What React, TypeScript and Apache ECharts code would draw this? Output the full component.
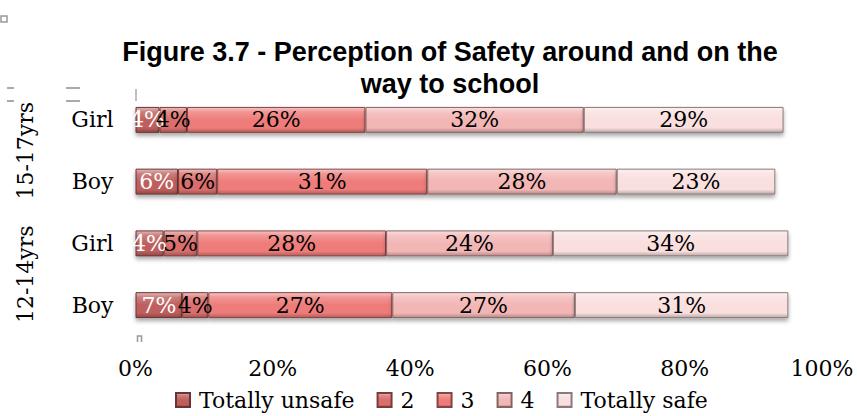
import React, { useEffect, useRef } from "react";
import * as echarts from "echarts";

const categories = ["Boy", "Girl", "Boy", "Girl"];
const groups = ["12-14yrs", "15-17yrs"];
const seriesNames = ["Totally unsafe", "2", "3", "4", "Totally safe"];
const totallyUnsafe = [6.8, 4.1, 6.2, 3.5];
const level2 = [3.8, 4.9, 5.7, 4.0];
const level3 = [26.8, 27.5, 30.6, 26.0];
const level4 = [26.6, 24.3, 27.6, 31.8];
const totallySafe = [31.1, 34.3, 23.1, 29.1];

const baseColors = ["#be5f5d", "#d96e6c", "#ee7c7a", "#f2b6b5", "#f9dfde"];
const labelColors = ["#ffffff", "#000000", "#000000", "#000000", "#000000"];

function mix(hex: string, target: number, t: number) {
  const n = parseInt(hex.slice(1), 16);
  const r = (n >> 16) & 255, g = (n >> 8) & 255, b = n & 255;
  const f = (c: number) => Math.round(c + (target - c) * t);
  return `rgb(${f(r)},${f(g)},${f(b)})`;
}

function bevel(hex: string) {
  return new echarts.graphic.LinearGradient(0, 0, 0, 1, [
    { offset: 0, color: mix(hex, 255, 0.55) },
    { offset: 0.18, color: mix(hex, 255, 0.2) },
    { offset: 0.5, color: hex },
    { offset: 0.82, color: hex },
    { offset: 1, color: mix(hex, 0, 0.25) },
  ]);
}

export default function App() {
  const ref = useRef<HTMLDivElement>(null);
  useEffect(() => {
    if (!ref.current) return;
    const chart = echarts.init(ref.current, null, { renderer: "svg" });
    const data = [totallyUnsafe, level2, level3, level4, totallySafe];
    const serif = "DejaVu Serif";
    chart.setOption({
      animation: false,
      title: {
        text: "Figure 3.7 - Perception of Safety around and on the\nway to school",
        left: 445,
        top: 31,
        textAlign: "center",
        textStyle: {
          fontFamily: "Liberation Sans",
          fontWeight: "bold",
          fontSize: 27,
          lineHeight: 32,
          color: "#000",
        },
      },
      legend: {
        left: 175,
        top: 389,
        padding: 0,
        itemWidth: 14,
        itemHeight: 14,
        itemGap: 22,
        icon: "rect",
        textStyle: { fontFamily: serif, fontSize: 22, color: "#000", padding: [0, 0, 0, 4] },
        data: seriesNames,
      },
      grid: { left: 135.5, right: 35, top: 89, bottom: 80, containLabel: false },
      xAxis: {
        type: "value",
        min: 0,
        max: 100,
        interval: 20,
        axisLine: { show: false },
        axisTick: { show: false },
        splitLine: { show: false },
        axisLabel: {
          formatter: "{value}%",
          fontFamily: serif,
          fontSize: 22,
          color: "#000",
          margin: 21,
        },
      },
      yAxis: [
        {
          type: "category",
          data: categories,
          axisLine: { show: false },
          axisTick: { show: false },
          axisLabel: { interval: 0, fontFamily: serif, fontSize: 22, color: "#000", margin: 22 },
        },
        {
          type: "category",
          data: groups,
          position: "left",
          offset: 93,
          axisLine: { show: false },
          axisTick: { show: false },
          axisLabel: { interval: 0, fontFamily: serif, fontSize: 22, color: "#000", rotate: 90, margin: 6, hideOverlap: false },
        },
      ],
      series: seriesNames.map((name, i) => ({
        name,
        type: "bar",
        stack: "total",
        yAxisIndex: 0,
        barWidth: "42%",
        data: data[i],
        itemStyle: {
          color: bevel(baseColors[i]),
          borderColor: mix(baseColors[i], 0, 0.45),
          borderWidth: 1,
          shadowColor: "rgba(0,0,0,0.35)",
          shadowBlur: 4,
          shadowOffsetY: 3,
        },
        label: {
          show: true,
          position: "inside",
          formatter: (p: any) => Math.round(p.value) + "%",
          fontFamily: serif,
          fontSize: 22,
          color: labelColors[i],
        },
      })),
      graphic: [
        { type: "rect", shape: { x: 1, y: 16, width: 6, height: 6 }, style: { fill: "none", stroke: "#999", lineWidth: 1.5 } },
        { type: "line", shape: { x1: 7, y1: 88, x2: 14, y2: 88 }, style: { stroke: "#aaa", lineWidth: 2 } },
        { type: "line", shape: { x1: 7, y1: 101, x2: 14, y2: 101 }, style: { stroke: "#aaa", lineWidth: 2 } },
        { type: "line", shape: { x1: 66, y1: 88, x2: 80, y2: 88 }, style: { stroke: "#aaa", lineWidth: 2 } },
        { type: "line", shape: { x1: 66, y1: 101, x2: 80, y2: 101 }, style: { stroke: "#aaa", lineWidth: 2 } },
        { type: "line", shape: { x1: 136, y1: 89, x2: 136, y2: 101 }, style: { stroke: "#aaa", lineWidth: 1.5 } },
        { type: "polyline", shape: { points: [[137.5, 342], [137.5, 336], [141.5, 336], [141.5, 342]] }, style: { stroke: "#999", lineWidth: 1.5, fill: "none" } },
      ],
    });
    return () => chart.dispose();
  }, []);
  return (
    <div
      ref={ref}
      style={{ position: "fixed", left: 0, top: 0, width: 857, height: 416, background: "#fff" }}
    />
  );
}
